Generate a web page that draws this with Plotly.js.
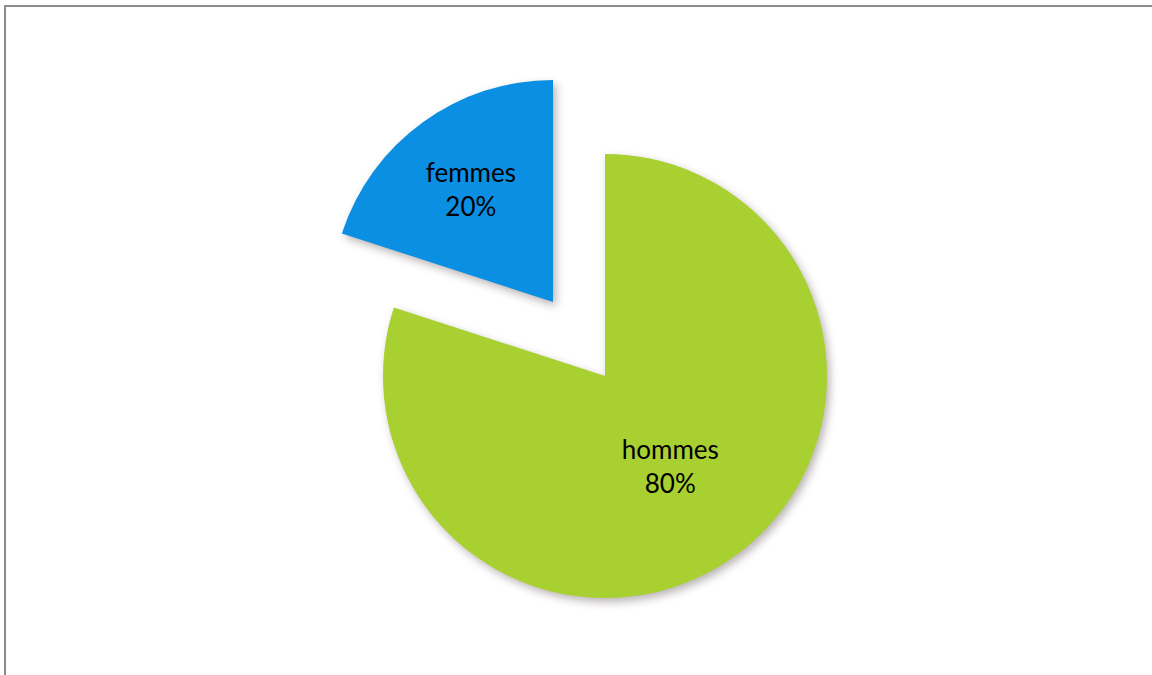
<!DOCTYPE html>
<html>
<head>
<meta charset="utf-8">
<script src="https://cdn.plot.ly/plotly-3.0.1.min.js"></script>
<style>
  html, body { margin: 0; padding: 0; background: #ffffff; }
  #wrap { position: relative; width: 1152px; height: 675px; overflow: hidden; }
  #chart { position: absolute; left: 0; top: 0; width: 1152px; height: 675px; }
  #frame { position: absolute; left: 4px; top: 5px; width: 1160px; height: 700px;
           border-top: 2px solid #8c8c8c; border-left: 2px solid #8c8c8c; pointer-events: none; }
  .pielayer path.surface { filter: drop-shadow(3px 4px 4px rgba(60,40,40,0.35)); }
</style>
</head>
<body>
<div id="wrap">
  <div id="chart"></div>
  <div id="frame"></div>
</div>
<script>
// Data
var categories = ['hommes', 'femmes'];
var values = [80, 20];
var sliceColors = ['#a8d030', '#0b8fe2'];

var clear = 'rgba(0,0,0,0)';
var labelTpl = '%{label}<br>%{percent:.0%}';
var labelFont = { family: 'Lato, "Liberation Sans", sans-serif', size: 26, color: '#000000' };

// Main pie (hommes visible)
var traceMain = {
  type: 'pie',
  labels: categories,
  values: values,
  sort: false,
  direction: 'clockwise',
  rotation: 0,
  marker: { colors: [sliceColors[0], clear], line: { width: 0 } },
  texttemplate: [labelTpl, ''],
  textposition: 'inside',
  insidetextorientation: 'horizontal',
  textfont: labelFont,
  hoverinfo: 'label+percent',
  showlegend: false,
  domain: { x: [383 / 1152, 827 / 1152], y: [77 / 675, 521 / 675] }
};

// Exploded slice (femmes visible), drawn pulled away from the centre
var traceExploded = {
  type: 'pie',
  labels: categories,
  values: values,
  sort: false,
  direction: 'clockwise',
  rotation: 0,
  marker: { colors: [clear, sliceColors[1]], line: { width: 0 } },
  texttemplate: ['', labelTpl],
  textposition: 'inside',
  insidetextorientation: 'horizontal',
  textfont: labelFont,
  hoverinfo: 'label+percent',
  showlegend: false,
  domain: { x: [331 / 1152, 775 / 1152], y: [151 / 675, 595 / 675] }
};

var layout = {
  width: 1152,
  height: 675,
  margin: { l: 0, r: 0, t: 0, b: 0 },
  paper_bgcolor: '#ffffff',
  plot_bgcolor: '#ffffff',
  showlegend: false
};

Plotly.newPlot('chart', [traceMain, traceExploded], layout, { displayModeBar: false, staticPlot: true });
</script>
</body>
</html>
